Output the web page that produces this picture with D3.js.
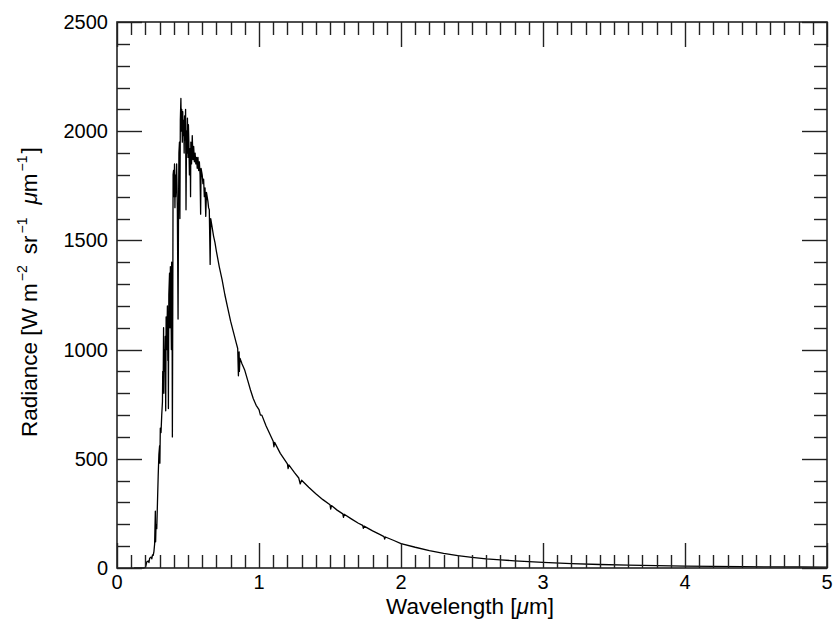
<!DOCTYPE html>
<html>
<head>
<meta charset="utf-8">
<script src="https://cdn.jsdelivr.net/npm/d3@7"></script>
<style>
  html, body { margin: 0; padding: 0; background: #fff; }
  text { font-family: "Liberation Sans", Arial, Helvetica, sans-serif; fill: #000; }
</style>
</head>
<body>
<svg id="chart" width="834" height="623"></svg>
<script>
// Wavelength [µm]
const wavelength = [
  0.12, 0.19, 0.20, 0.205, 0.21, 0.22, 0.225, 0.23, 0.24, 0.245, 0.25, 0.255, 0.26, 0.265, 0.27, 0.272, 0.275, 0.28,
  0.285, 0.29, 0.295, 0.30, 0.302, 0.305, 0.31, 0.315, 0.32, 0.322, 0.325, 0.328, 0.33, 0.333, 0.336, 0.34, 0.343,
  0.346, 0.35, 0.355, 0.358, 0.36, 0.362, 0.365, 0.37, 0.373, 0.376, 0.38, 0.383, 0.385, 0.388, 0.39, 0.393, 0.395,
  0.398, 0.40, 0.405, 0.408, 0.41, 0.413, 0.416, 0.42, 0.425, 0.43, 0.433, 0.436, 0.44, 0.443, 0.446, 0.45, 0.453,
  0.456, 0.46, 0.463, 0.466, 0.47, 0.473, 0.476, 0.48, 0.483, 0.486, 0.49, 0.493, 0.496, 0.50, 0.503, 0.506, 0.51,
  0.515, 0.518, 0.52, 0.525, 0.53, 0.535, 0.54, 0.545, 0.55, 0.555, 0.56, 0.565, 0.57, 0.575, 0.58, 0.585, 0.589,
  0.592, 0.60, 0.605, 0.61, 0.615, 0.62, 0.625, 0.63, 0.64, 0.645, 0.65, 0.656, 0.66, 0.67, 0.68, 0.69, 0.70, 0.72,
  0.74, 0.76, 0.78, 0.80, 0.82, 0.84, 0.85, 0.855, 0.86, 0.862, 0.866, 0.88, 0.90, 0.92, 0.94, 0.96, 0.98, 1.0,
  1.01, 1.02, 1.05, 1.1, 1.105, 1.11, 1.15, 1.2, 1.205, 1.21, 1.25, 1.28, 1.29, 1.30, 1.35, 1.4, 1.45, 1.5, 1.505,
  1.51, 1.55, 1.59, 1.595, 1.6, 1.65, 1.7, 1.73, 1.735, 1.74, 1.8, 1.85, 1.88, 1.885, 1.89, 1.95, 2.0, 2.1, 2.2,
  2.3, 2.4, 2.5, 2.6, 2.7, 2.8, 2.9, 3.0, 3.2, 3.4, 3.6, 3.8, 4.0, 4.2, 4.4, 4.6, 4.8, 5.0
];
// Radiance [W m^-2 sr^-1 µm^-1]
const radiance = [
  0, 0, 3, 15, 28, 32, 25, 45, 50, 42, 60, 58, 75, 110, 260, 120, 200, 180,
  300, 420, 520, 560, 480, 640, 620, 700, 760, 900, 830, 1100, 800, 1000, 900, 1060, 720,
  1150, 1000, 1200, 950, 1100, 730, 1250, 1350, 1100, 1380, 1200, 1000, 1400, 1150, 600, 1250, 1800,
  1820, 1700, 1850, 1650, 1800, 1700, 1750, 1850, 1650, 1140, 1600, 1900, 1950, 1600, 2050, 2150, 2000,
  2100, 1950, 2090, 1980, 2050, 1900, 2070, 1960, 2100, 1640, 2000, 1900, 2060, 1880, 2030, 1950, 1800,
  1920, 1700, 1950, 1850, 1980, 1870, 1930, 1860, 1900, 1850, 1880, 1830, 1880, 1820, 1860, 1800, 1620,
  1830, 1800, 1760, 1780, 1700, 1740, 1610, 1720, 1680, 1650, 1640, 1390, 1600, 1560, 1520, 1490, 1450, 1380,
  1320, 1250, 1190, 1130, 1080, 1030, 1005, 880, 990, 900, 960, 935, 905, 860, 815, 775, 745, 725,
  700, 700, 650, 580, 555, 575, 525, 477, 455, 472, 437, 412, 385, 402, 370, 340, 313, 290, 270,
  286, 265, 248, 232, 246, 225, 205, 195, 182, 192, 170, 154, 144, 132, 142, 126, 112, 95, 80,
  67, 57, 49, 42, 37, 33, 29, 26, 20, 16, 13, 11, 9, 7.5, 6, 5, 4.5, 4
];
const xTickValues = [0, 1, 2, 3, 4, 5];
const yTickValues = [0, 500, 1000, 1500, 2000, 2500];

const svg = d3.select("#chart");
const margin = { left: 117, right: 7, top: 22, bottom: 55 };
const W = 834, H = 623;
const x = d3.scaleLinear().domain([0, 5]).range([margin.left, W - margin.right]);
const y = d3.scaleLinear().domain([0, 2500]).range([H - margin.bottom, margin.top]);

const x0 = x.range()[0], x1 = x.range()[1], y0 = y.range()[0], y1 = y.range()[1];
const majorLen = 25, minorLen = 13;
const axisColor = "#222";

// data line
const pts = wavelength.map((w, i) => [w, radiance[i]]);
svg.append("path")
  .datum(pts)
  .attr("fill", "none")
  .attr("stroke", "#000")
  .attr("stroke-width", 1.3)
  .attr("stroke-linejoin", "round")
  .attr("d", d3.line().x(d => x(d[0])).y(d => y(d[1])));

const g = svg.append("g");

// minor / major ticks on x (bottom & top)
const xMinor = d3.range(0, 51).map(i => i / 10);
xMinor.forEach(v => {
  const isMajor = Math.abs(v - Math.round(v)) < 1e-9;
  const len = isMajor ? majorLen : minorLen;
  const px = Math.round(x(v)) + 0.5;
  g.append("line").attr("x1", px).attr("x2", px).attr("y1", y0).attr("y2", y0 - len)
    .attr("stroke", axisColor).attr("stroke-width", 1.4);
  g.append("line").attr("x1", px).attr("x2", px).attr("y1", y1).attr("y2", y1 + len)
    .attr("stroke", axisColor).attr("stroke-width", 1.4);
});
const yMinor = d3.range(0, 26).map(i => i * 100);
yMinor.forEach(v => {
  const isMajor = v % 500 === 0;
  const len = isMajor ? majorLen : minorLen;
  const py = Math.round(y(v)) + 0.5;
  g.append("line").attr("x1", x0).attr("x2", x0 + len).attr("y1", py).attr("y2", py)
    .attr("stroke", axisColor).attr("stroke-width", 1.4);
  g.append("line").attr("x1", x1).attr("x2", x1 - len).attr("y1", py).attr("y2", py)
    .attr("stroke", axisColor).attr("stroke-width", 1.4);
});

// frame
g.append("rect").attr("x", x0).attr("y", y1).attr("width", x1 - x0).attr("height", y0 - y1)
  .attr("fill", "none").attr("stroke", axisColor).attr("stroke-width", 1.6);

// tick labels
const fsTick = 20, fsTitle = 22.5, fsSup = 14;
svg.append("g").selectAll("text").data(xTickValues).join("text")
  .attr("x", d => x(d)).attr("y", y0 + 21)
  .attr("text-anchor", "middle").attr("font-size", fsTick)
  .text(d => d3.format("d")(d));
svg.append("g").selectAll("text").data(yTickValues).join("text")
  .attr("x", x0 - 9).attr("y", d => y(d) + 7)
  .attr("text-anchor", "end").attr("font-size", fsTick)
  .text(d => d3.format("d")(d));

// x label
const xl = svg.append("text").attr("x", (x0 + x1) / 2 - 2).attr("y", y0 + 46)
  .attr("text-anchor", "middle").attr("font-size", fsTitle);
xl.append("tspan").text("Wavelength [");
xl.append("tspan").attr("font-style", "italic").text("\u03bc");
xl.append("tspan").text("m]");

// y label
const yl = svg.append("text")
  .attr("transform", `translate(37, 437) rotate(-90)`)
  .attr("text-anchor", "start").attr("font-size", fsTitle);
yl.append("tspan").text("Radiance [W m");
yl.append("tspan").attr("font-size", fsSup).attr("dy", -10).attr("dx", 2).text("\u22122");
yl.append("tspan").attr("dy", 10).attr("dx", 11).text("sr");
yl.append("tspan").attr("font-size", fsSup).attr("dy", -10).attr("dx", 2).text("\u22121");
yl.append("tspan").attr("dy", 10).attr("dx", 13).attr("font-style", "italic").text("\u03bc");
yl.append("tspan").text("m");
yl.append("tspan").attr("font-size", fsSup).attr("dy", -10).attr("dx", 2).text("\u22121");
yl.append("tspan").attr("dy", 10).attr("dx", 2).text("]");
</script>
</body>
</html>
